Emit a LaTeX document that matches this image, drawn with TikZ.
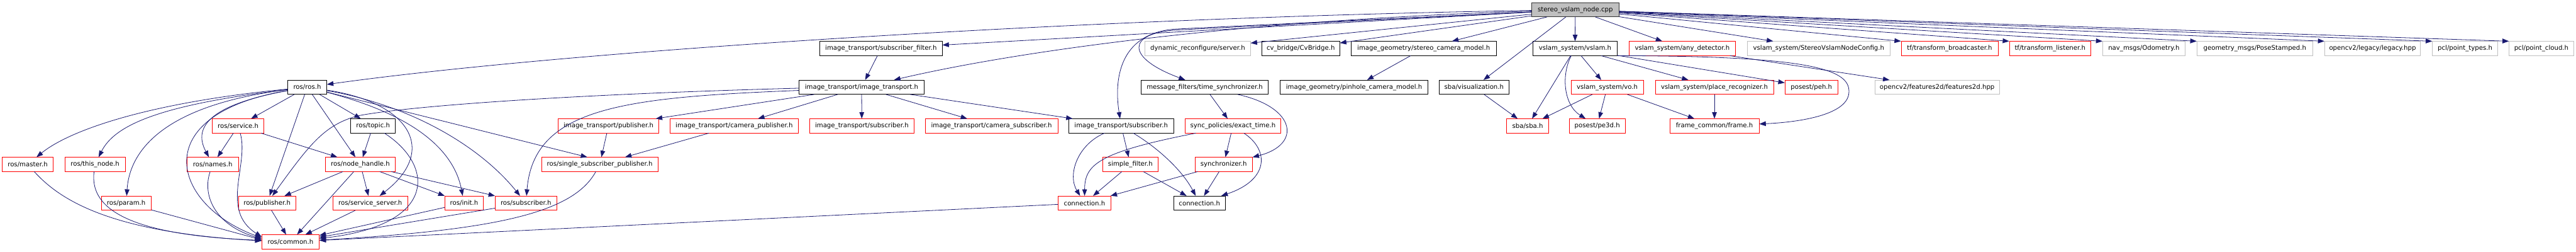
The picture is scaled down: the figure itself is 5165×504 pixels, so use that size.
\documentclass[tikz,border=0pt]{standalone}
\usepackage{fontspec}
\setmainfont{DejaVu Sans}
\usepackage{tikz}
\usetikzlibrary{arrows.meta}
\definecolor{edgeblue}{RGB}{25,25,112}
\definecolor{grey75}{RGB}{191,191,191}
\definecolor{boxred}{RGB}{255,0,0}
\tikzset{
    hdr/.style={draw, fill=white, line width=1pt, minimum height=28pt, inner sep=0pt, font=\fontsize{12.8pt}{15pt}\selectfont},
    known/.style={hdr, draw=black},
    trunc/.style={hdr, draw=boxred},
    undoc/.style={hdr, draw=grey75},
    main/.style={hdr, draw=black!80, fill=grey75},
    incl/.style={-{Triangle[length=13pt,width=9.5pt]}, line width=1pt, draw=edgeblue}
}
\begin{document}
\begin{tikzpicture}[x=1pt, y=-1pt]
\useasboundingbox (0,0) rectangle (5165,504);
\node[main, minimum width=175pt] (root) at (3158.5,19.5) {stereo\_vslam\_node.cpp};
\node[known, minimum width=245pt] (sf) at (1766.5,97) {image\_transport/subscriber\_filter.h};
\node[undoc, minimum width=211pt] (dyn) at (2401.5,97) {dynamic\_reconfigure/server.h};
\node[known, minimum width=156pt] (cvb) at (2608,97) {cv\_bridge/CvBridge.h};
\node[known, minimum width=291pt] (stereo) at (2854.5,97) {image\_geometry/stereo\_camera\_model.h};
\node[known, minimum width=168pt] (vslam) at (3158,97) {vslam\_system/vslam.h};
\node[trunc, minimum width=214pt] (anyd) at (3373,97) {vslam\_system/any\_detector.h};
\node[undoc, minimum width=287pt] (config) at (3646.5,97) {vslam\_system/StereoVslamNodeConfig.h};
\node[trunc, minimum width=194pt] (tfb) at (3909,97) {tf/transform\_broadcaster.h};
\node[trunc, minimum width=163pt] (tfl) at (4110.5,97) {tf/transform\_listener.h};
\node[undoc, minimum width=165pt] (odom) at (4298.5,97) {nav\_msgs/Odometry.h};
\node[undoc, minimum width=232pt] (pose) at (4521,97) {geometry\_msgs/PoseStamped.h};
\node[undoc, minimum width=192pt] (legacy) at (4757,97) {opencv2/legacy/legacy.hpp};
\node[undoc, minimum width=131pt] (ptypes) at (4942.5,97) {pcl/point\_types.h};
\node[undoc, minimum width=129pt] (pcloud) at (5095.5,97) {pcl/point\_cloud.h};
\node[known, minimum width=78pt] (ros) at (616,174.5) {ros/ros.h};
\node[known, minimum width=251pt] (it) at (1727.5,174.5) {image\_transport/image\_transport.h};
\node[known, minimum width=255pt] (tsync) at (2415.5,174.5) {message\_filters/time\_synchronizer.h};
\node[known, minimum width=296pt] (pinhole) at (2715,174.5) {image\_geometry/pinhole\_camera\_model.h};
\node[known, minimum width=139pt] (sbavis) at (2955.5,174.5) {sba/visualization.h};
\node[trunc, minimum width=145pt] (vo) at (3222.5,174.5) {vslam\_system/vo.h};
\node[trunc, minimum width=237pt] (place) at (3437.5,174.5) {vslam\_system/place\_recognizer.h};
\node[trunc, minimum width=106pt] (peh) at (3632,174.5) {posest/peh.h};
\node[undoc, minimum width=250pt] (feat) at (3884,174.5) {opencv2/features2d/features2d.hpp};
\node[trunc, minimum width=103pt] (service) at (477.5,252) {ros/service.h};
\node[known, minimum width=90pt] (topic) at (748,252) {ros/topic.h};
\node[trunc, minimum width=202pt] (itpub) at (1220,252) {image\_transport/publisher.h};
\node[trunc, minimum width=258pt] (itcampub) at (1472,252) {image\_transport/camera\_publisher.h};
\node[trunc, minimum width=210pt] (itsubr) at (1728,252) {image\_transport/subscriber.h};
\node[trunc, minimum width=266pt] (itcamsub) at (1988,252) {image\_transport/camera\_subscriber.h};
\node[known, minimum width=210pt] (itsub) at (2248,252) {image\_transport/subscriber.h};
\node[trunc, minimum width=192pt] (exact) at (2472,252) {sync\_policies/exact\_time.h};
\node[trunc, minimum width=84pt] (sba) at (3063,252) {sba/sba.h};
\node[trunc, minimum width=113pt] (pe3d) at (3202.5,252) {posest/pe3d.h};
\node[trunc, minimum width=179pt] (frame) at (3437.5,252) {frame\_common/frame.h};
\node[trunc, minimum width=103pt] (master) at (55.5,329) {ros/master.h};
\node[trunc, minimum width=121pt] (thisnode) at (190.5,329) {ros/this\_node.h};
\node[trunc, minimum width=103pt] (names) at (426.5,329) {ros/names.h};
\node[trunc, minimum width=141pt] (nh) at (722.5,329) {ros/node\_handle.h};
\node[trunc, minimum width=233pt] (ssp) at (1202.5,329) {ros/single\_subscriber\_publisher.h};
\node[trunc, minimum width=111pt] (simple) at (2266.5,329) {simple\_filter.h};
\node[trunc, minimum width=115pt] (synchr) at (2453.5,329) {synchronizer.h};
\node[trunc, minimum width=100pt] (param) at (253,406.5) {ros/param.h};
\node[trunc, minimum width=115pt] (pub) at (535.5,406.5) {ros/publisher.h};
\node[trunc, minimum width=149pt] (srvsrv) at (742.5,406.5) {ros/service\_server.h};
\node[trunc, minimum width=77pt] (init) at (930.5,406.5) {ros/init.h};
\node[trunc, minimum width=123pt] (sub) at (1054.5,406.5) {ros/subscriber.h};
\node[trunc, minimum width=105pt] (connr) at (2174.5,406.5) {connection.h};
\node[known, minimum width=104pt] (connb) at (2405,406.5) {connection.h};
\node[trunc, minimum width=115pt] (common) at (582.5,484) {ros/common.h};
\draw[incl] (root) -- (sf);
\draw[incl] (root) .. controls (2500,40) and (2050,100) .. ([xshift=65pt]it.north);
\draw[incl] (root) .. controls (2200,35) and (1150,100) .. (ros);
\draw[incl] (root) -- (dyn);
\draw[incl] (root) -- (cvb);
\draw[incl] (root) -- (stereo);
\draw[incl] (root) -- (2360,60) .. controls (2260,66) and (2255,115) .. (tsync);
\draw[incl] (root) -- (2360,58) .. controls (2250,64) and (2232,150) .. (itsub);
\draw[incl] (root) -- (sbavis);
\draw[incl] (root) -- (vslam);
\draw[incl] (root) -- (anyd);
\draw[incl] (root) -- (config);
\draw[incl] (root) -- (tfb.north west);
\draw[incl] (root) -- (tfl.north west);
\draw[incl] (root) -- (odom.north west);
\draw[incl] (root) -- (pose.north west);
\draw[incl] (root) -- (legacy.north west);
\draw[incl] (root) -- (ptypes.north west);
\draw[incl] (root) -- (pcloud.north west);
\draw[incl] (vslam) -- (sba);
\draw[incl] (vslam) .. controls (3130,150) and (3135,210) .. (pe3d);
\draw[incl] (vslam) -- (vo);
\draw[incl] (vslam) -- (place);
\draw[incl] (vslam) -- (peh);
\draw[incl] (vslam.south east) .. controls (3640,112) and (3712,140) .. (3707,187) .. controls (3702,232) and (3600,245) .. (frame);
\draw[incl] (vo) -- (sba);
\draw[incl] (vo) -- (pe3d);
\draw[incl] (vo) -- (frame);
\draw[incl] (place) -- (frame);
\draw[incl] (sbavis) -- (sba);
\draw[incl] (anyd) -- (feat);
\draw[incl] (stereo) -- (pinhole);
\draw[incl] (sf) -- (it);
\draw[incl] (tsync) -- (exact);
\draw[incl] (tsync) .. controls (2600,215) and (2610,290) .. (synchr);
\draw[incl] (exact) -- (synchr);
\draw[incl] (exact) .. controls (2545,300) and (2545,360) .. (connb);
\draw[incl] (exact) .. controls (2200,305) and (2175,330) .. (connr);
\draw[incl] (synchr) -- (connr);
\draw[incl] (synchr) -- (connb);
\draw[incl] (itsub) .. controls (2160,290) and (2140,350) .. (connr);
\draw[incl] (itsub) -- (simple);
\draw[incl] (itsub) .. controls (2320,295) and (2370,340) .. (connb);
\draw[incl] (simple) -- (connr);
\draw[incl] (simple) -- (connb);
\draw[incl] (connr) -- (common);
\draw[incl] (it) -- (itpub);
\draw[incl] (it) -- (itcampub);
\draw[incl] (it) -- (itsubr);
\draw[incl] (it) -- (itcamsub);
\draw[incl] (it) -- (itsub);
\draw[incl] ([yshift=-2pt]it.west) .. controls (1100,190) and (800,215) .. (717,232) .. controls (650,250) and (620,290) .. (pub);
\draw[incl] ([yshift=-6.5pt]it.west) .. controls (1250,195) and (1070,215) .. (sub);
\draw[incl] (itpub) -- (ssp);
\draw[incl] (itcampub) -- (ssp);
\draw[incl] (ssp) .. controls (1150,425) and (1000,460) .. (common);
\draw[incl] (ros) .. controls (300,205) and (140,260) .. (master);
\draw[incl] (ros) .. controls (320,210) and (230,250) .. (thisnode);
\draw[incl] (ros) .. controls (330,210) and (260,300) .. (param);
\draw[incl] (ros) .. controls (290,230) and (345,410) .. ([yshift=8pt]common.west);
\draw[incl] (ros) .. controls (390,215) and (395,270) .. (names);
\draw[incl] (ros) -- (service);
\draw[incl] (ros) -- (topic);
\draw[incl] (ros) -- (nh);
\draw[incl] (ros) -- (pub);
\draw[incl] (ros) .. controls (820,205) and (880,300) .. (srvsrv);
\draw[incl] (ros) .. controls (830,230) and (910,300) .. (init);
\draw[incl] (ros) .. controls (820,210) and (960,290) .. (sub);
\draw[incl] (ros) -- ([xshift=-25pt]ssp.north);
\draw[incl] (topic) -- (nh);
\draw[incl] (topic) .. controls (870,330) and (880,450) .. (common);
\draw[incl] (service) -- (names);
\draw[incl] (service) .. controls (500,330) and (440,420) .. ([yshift=10pt]common.west);
\draw[incl] (service) -- (nh);
\draw[incl] (names) .. controls (405,390) and (430,450) .. ([yshift=6pt]common.west);
\draw[incl] (master) .. controls (120,400) and (220,465) .. ([yshift=2pt]common.west);
\draw[incl] (thisnode) .. controls (180,410) and (240,470) .. ([yshift=3pt]common.west);
\draw[incl] (param) -- ([yshift=4pt]common.west);
\draw[incl] (nh) -- (pub);
\draw[incl] (nh) -- (common);
\draw[incl] (nh) -- (srvsrv);
\draw[incl] (nh) -- (init);
\draw[incl] (nh) -- (sub);
\draw[incl] (pub) -- (common);
\draw[incl] (srvsrv) -- (common);
\draw[incl] (init) -- (common);
\draw[incl] (sub) -- (common);
\end{tikzpicture}
\end{document}
